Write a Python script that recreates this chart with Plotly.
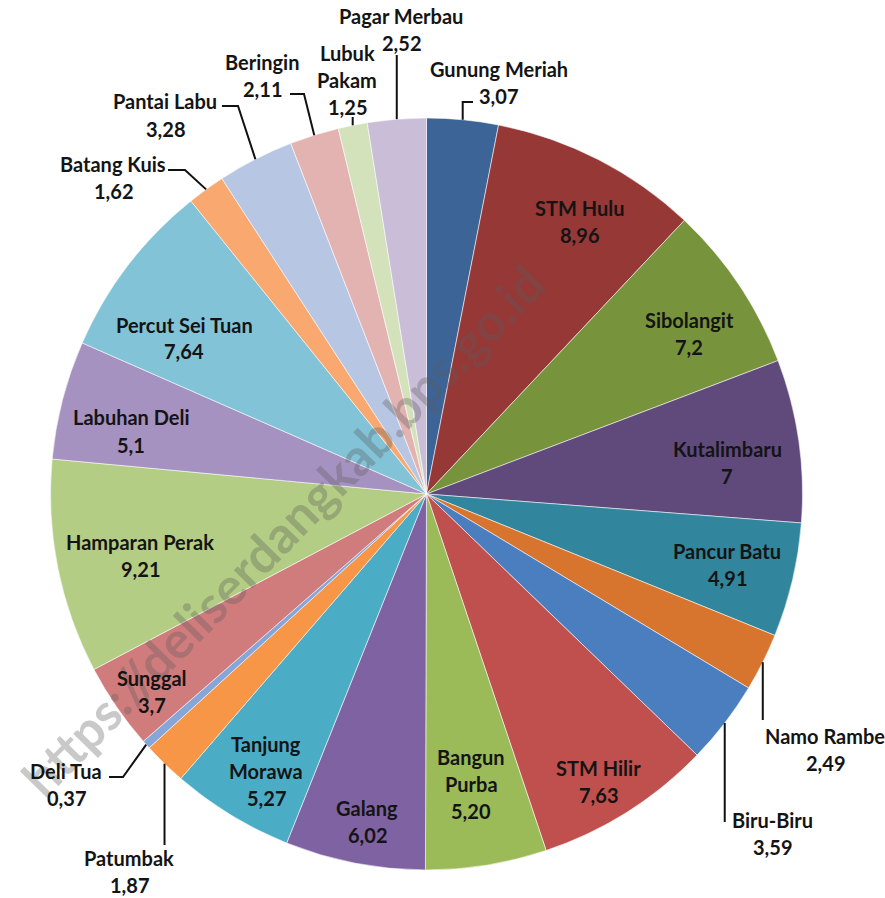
import math
import plotly.graph_objects as go

# ---------------- data ----------------
districts = ["Gunung Meriah", "STM Hulu", "Sibolangit", "Kutalimbaru", "Pancur Batu",
             "Namo Rambe", "Biru-Biru", "STM Hilir", "Bangun Purba", "Galang",
             "Tanjung Morawa", "Patumbak", "Deli Tua", "Sunggal", "Hamparan Perak",
             "Labuhan Deli", "Percut Sei Tuan", "Batang Kuis", "Pantai Labu",
             "Beringin", "Lubuk Pakam", "Pagar Merbau"]
values = [3.07, 8.96, 7.2, 7, 4.91, 2.49, 3.59, 7.63, 5.20, 6.02, 5.27, 1.87, 0.37,
          3.7, 9.21, 5.1, 7.64, 1.62, 3.28, 2.11, 1.25, 2.52]
value_labels = ["3,07", "8,96", "7,2", "7", "4,91", "2,49", "3,59", "7,63", "5,20", "6,02",
                "5,27", "1,87", "0,37", "3,7", "9,21", "5,1", "7,64", "1,62", "3,28",
                "2,11", "1,25", "2,52"]
colors = ["#3C6497", "#953836", "#77933C", "#604A7B", "#31859C",
          "#D7752F", "#4A7EBF", "#C0504D", "#9BBB59", "#7F62A1",
          "#4BACC6", "#F79646", "#86A6DA", "#D07C7D", "#B4CD84",
          "#A692C1", "#82C3D8", "#F9A870", "#B7C7E3",
          "#E3B3B2", "#D4E2BC", "#C9BDD8"]

# ---------------- layout ----------------
W, H = 885, 898
CX, CY, R = 426.5, 494.0, 376.0
LINE_GAP = 27
FONT = "Lato"
TXT = "#141414"
FS = 20

# label block centres (pixels) and name line splits
label_layout = {
    "Gunung Meriah": (499, 83, ["Gunung Meriah"]),
    "STM Hulu": (579, 221, ["STM Hulu"]),
    "Sibolangit": (689, 333, ["Sibolangit"]),
    "Kutalimbaru": (727, 462, ["Kutalimbaru"]),
    "Pancur Batu": (727, 564, ["Pancur Batu"]),
    "Namo Rambe": (825, 749, ["Namo Rambe"]),
    "Biru-Biru": (772, 833, ["Biru-Biru"]),
    "STM Hilir": (598, 781, ["STM Hilir"]),
    "Bangun Purba": (471, 784, ["Bangun", "Purba"]),
    "Galang": (367, 821, ["Galang"]),
    "Tanjung Morawa": (266, 771, ["Tanjung", "Morawa"]),
    "Patumbak": (129, 871, ["Patumbak"]),
    "Deli Tua": (66, 784, ["Deli Tua"]),
    "Sunggal": (152, 691, ["Sunggal"]),
    "Hamparan Perak": (140, 555, ["Hamparan Perak"]),
    "Labuhan Deli": (131, 431, ["Labuhan Deli"]),
    "Percut Sei Tuan": (184, 338, ["Percut Sei Tuan"]),
    "Batang Kuis": (113, 177, ["Batang Kuis"]),
    "Pantai Labu": (165, 115, ["Pantai Labu"]),
    "Beringin": (262, 75, ["Beringin"]),
    "Lubuk Pakam": (347, 80, ["Lubuk", "Pakam"]),
    "Pagar Merbau": (401, 29, ["Pagar Merbau"]),
}
# leader lines: intermediate points after the slice edge point (pixels)
leaders = {
    "Gunung Meriah": [("edge_x", 102), (473, 102)],
    "Pagar Merbau": [("edge_x", 55)],
    "Lubuk Pakam": [("edge_x", 117)],
    "Beringin": [(304, 94), (290, 94)],
    "Pantai Labu": [(238, 106), (222, 106)],
    "Batang Kuis": [(185, 170), (168, 170)],
    "Namo Rambe": [("edge_x", 720)],
    "Biru-Biru": [("edge_x", 822)],
    "Deli Tua": [(123, 777), (109, 777)],
    "Patumbak": [("edge_x", 845)],
}


def px(x):
    return x / W


def py(y):
    return 1 - y / H


fig = go.Figure()
fig.add_trace(go.Pie(
    values=values, labels=districts, sort=False, direction="clockwise", rotation=0,
    textinfo="none", hoverinfo="label+value", showlegend=False,
    marker=dict(colors=colors, line=dict(color="rgba(255,255,255,0.55)", width=1)),
    domain=dict(x=[(CX - R) / W, (CX + R) / W], y=[1 - (CY + R) / H, 1 - (CY - R) / H]),
))

annotations = []
# watermark
annotations.append(dict(
    text="https://deliserdangkab.bps.go.id", x=px(282), y=py(530), xref="paper", yref="paper",
    showarrow=False, textangle=-45.5, xanchor="center", yanchor="middle",
    font=dict(family=FONT, size=51, color="rgba(90,90,90,0.33)", weight="bold"),
))

shapes = []
total = sum(values)
cum = 0.0
for name, v, vl in zip(districts, values, value_labels):
    mid = (cum + v / 2) / total
    cum += v
    ang = 2 * math.pi * mid
    ex, ey = CX + R * math.sin(ang), CY - R * math.cos(ang)
    bx, by, lines = label_layout[name]
    all_lines = lines + [vl]
    n = len(all_lines)
    for i, t in enumerate(all_lines):
        yy = by + (i - (n - 1) / 2) * LINE_GAP
        annotations.append(dict(
            text=t, x=px(bx), y=py(yy), xref="paper", yref="paper", showarrow=False,
            xanchor="center", yanchor="middle",
            font=dict(family=FONT, size=FS, color=TXT, weight="bold"),
        ))
    if name in leaders:
        pts = [(ex, ey)]
        for (lx, ly) in leaders[name]:
            pts.append((ex if lx == "edge_x" else lx, ly))
        path = "M " + " L ".join(f"{px(a):.5f},{py(b):.5f}" for a, b in pts)
        shapes.append(dict(type="path", path=path, xref="paper", yref="paper",
                           line=dict(color="#111111", width=2)))

fig.update_layout(
    width=W, height=H, margin=dict(l=0, r=0, t=0, b=0),
    paper_bgcolor="white", plot_bgcolor="white",
    annotations=annotations, shapes=shapes,
)
fig.write_html("out.html", config={"displayModeBar": False},
               post_script="document.body.style.margin='0';document.body.style.overflow='hidden';")
